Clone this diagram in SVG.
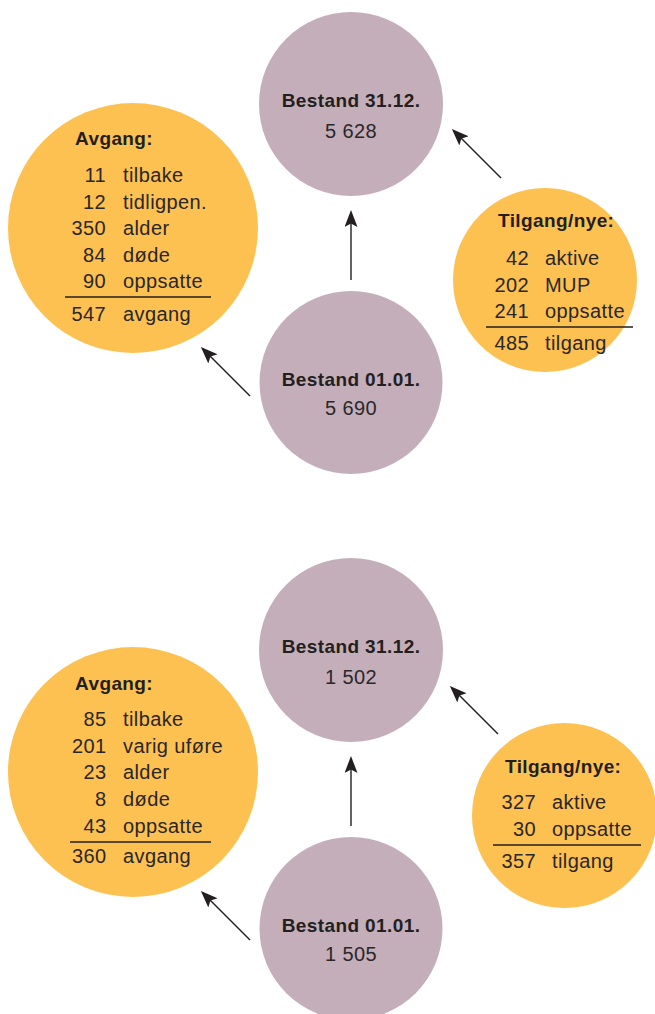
<svg xmlns="http://www.w3.org/2000/svg" width="655" height="1014" viewBox="0 0 655 1014">
<defs>
<marker id="ah" viewBox="0 0 17 13" refX="14" refY="6.5" markerWidth="17" markerHeight="13" markerUnits="userSpaceOnUse" orient="auto">
<path d="M0,0 L17,6.5 L0,13 L3.5,6.5 Z" fill="#231f20"/>
</marker>
</defs>
<style>
.y{fill:#fdc152}
.p{fill:#c4aeba}
text{font-family:"Liberation Sans",Arial,sans-serif;fill:#231f20;letter-spacing:0.4px}
.b{font-weight:bold;font-size:19px}
.r{font-size:20px;fill:#2b2728}
.n{font-size:20px;text-anchor:end;fill:#2b2728}
.c{text-anchor:middle}
.u{stroke:#231f20;stroke-width:1.5}
.a{stroke:#231f20;stroke-width:1.4;fill:none;marker-end:url(#ah)}
</style>
<rect width="655" height="1014" fill="#ffffff"/>

<g id="top-avgang">
<circle class="y" cx="133" cy="228" r="125"/>
<text class="b" x="75" y="145">Avgang:</text>
<text class="n" x="106" y="182">11</text><text class="r" x="123" y="182">tilbake</text>
<text class="n" x="106" y="208.5">12</text><text class="r" x="123" y="208.5">tidligpen.</text>
<text class="n" x="106" y="235">350</text><text class="r" x="123" y="235">alder</text>
<text class="n" x="106" y="261.5">84</text><text class="r" x="123" y="261.5">døde</text>
<text class="n" x="106" y="288">90</text><text class="r" x="123" y="288">oppsatte</text>
<line class="u" x1="65" y1="297" x2="211" y2="297"/>
<text class="n" x="106" y="321">547</text><text class="r" x="123" y="321">avgang</text>
</g>

<g id="top-bestand-3112">
<circle class="p" cx="351" cy="104" r="92"/>
<text class="b c" x="351" y="107">Bestand 31.12.</text>
<text class="r c" x="351" y="138">5 628</text>
</g>

<g id="top-tilgang">
<circle class="y" cx="545" cy="280" r="92"/>
<text class="b" x="498" y="227">Tilgang/nye:</text>
<text class="n" x="529" y="265">42</text><text class="r" x="545" y="265">aktive</text>
<text class="n" x="529" y="292">202</text><text class="r" x="545" y="292">MUP</text>
<text class="n" x="529" y="318">241</text><text class="r" x="545" y="318">oppsatte</text>
<line class="u" x1="486" y1="327" x2="633" y2="327"/>
<text class="n" x="529" y="350">485</text><text class="r" x="545" y="350">tilgang</text>
</g>

<g id="top-bestand-0101">
<circle class="p" cx="351" cy="382.5" r="91.5"/>
<text class="b c" x="351" y="386">Bestand 01.01.</text>
<text class="r c" x="351" y="415">5 690</text>
</g>

<g id="bottom-avgang">
<circle class="y" cx="133" cy="772" r="125"/>
<text class="b" x="75" y="690">Avgang:</text>
<text class="n" x="106.5" y="726">85</text><text class="r" x="123" y="726">tilbake</text>
<text class="n" x="106.5" y="752.7">201</text><text class="r" x="123" y="752.7">varig uføre</text>
<text class="n" x="106.5" y="779.3">23</text><text class="r" x="123" y="779.3">alder</text>
<text class="n" x="106.5" y="806">8</text><text class="r" x="123" y="806">døde</text>
<text class="n" x="106.5" y="832.7">43</text><text class="r" x="123" y="832.7">oppsatte</text>
<line class="u" x1="70" y1="842" x2="211" y2="842"/>
<text class="n" x="106.5" y="863">360</text><text class="r" x="123" y="863">avgang</text>
</g>

<g id="bottom-bestand-3112">
<circle class="p" cx="351" cy="650" r="92"/>
<text class="b c" x="351" y="653">Bestand 31.12.</text>
<text class="r c" x="351" y="684">1 502</text>
</g>

<g id="bottom-tilgang">
<circle class="y" cx="564.5" cy="815.5" r="92.5"/>
<text class="b" x="505" y="773">Tilgang/nye:</text>
<text class="n" x="536" y="809">327</text><text class="r" x="552" y="809">aktive</text>
<text class="n" x="536" y="836">30</text><text class="r" x="552" y="836">oppsatte</text>
<line class="u" x1="493" y1="845" x2="641" y2="845"/>
<text class="n" x="536" y="868">357</text><text class="r" x="552" y="868">tilgang</text>
</g>

<g id="bottom-bestand-0101">
<circle class="p" cx="351" cy="928.5" r="91.5"/>
<text class="b c" x="351" y="932">Bestand 01.01.</text>
<text class="r c" x="351" y="961">1 505</text>
</g>

<g id="connectors">
<line class="a" x1="351" y1="280" x2="351" y2="213"/>
<line class="a" x1="250" y1="396" x2="203" y2="349"/>
<line class="a" x1="501" y1="178" x2="454" y2="131"/>
<line class="a" x1="351" y1="826" x2="351" y2="759"/>
<line class="a" x1="250" y1="940" x2="203" y2="893"/>
<line class="a" x1="498" y1="734" x2="452" y2="688"/>
</g>
</svg>
